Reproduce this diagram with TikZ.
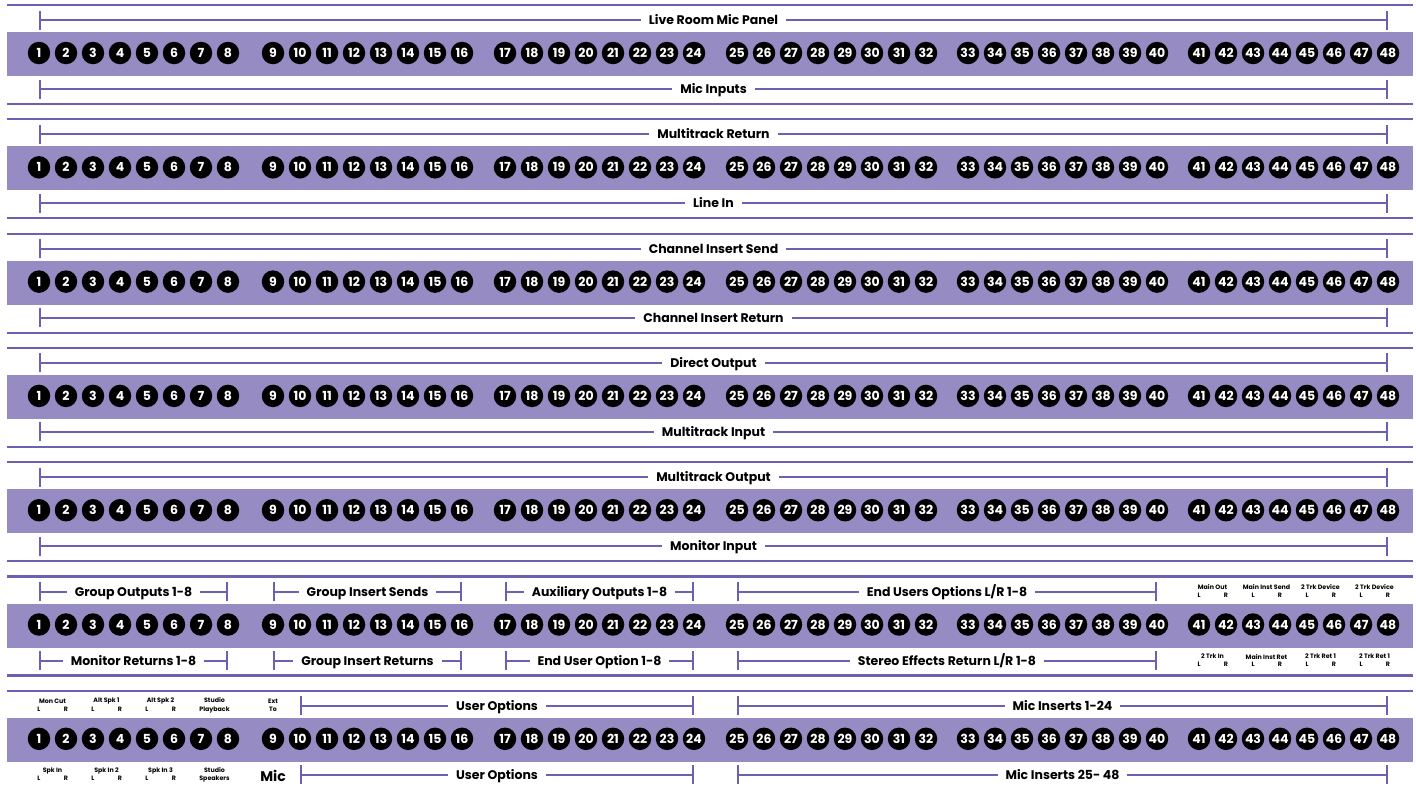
\documentclass[tikz,border=0pt]{standalone}
\usepackage{fontspec}
\setmainfont{Poppins}
\usetikzlibrary{arrows.meta,calc}
\definecolor{PatchBand}{HTML}{978BC4}
\definecolor{PatchLine}{HTML}{6A61B3}
\tikzset{
  rule/.style={draw=PatchLine, line width=2.2pt},
  span/.style={draw=PatchLine, line width=2pt, {Bar[width=19pt]}-{Bar[width=19pt]}},
  jack/.style={circle, fill=black, text=white, minimum size=22.5pt, inner sep=0pt,
               font=\bfseries\fontsize{12.5}{13}\selectfont},
  title/.style={fill=white, inner xsep=8pt, inner ysep=1pt, text height=9pt, text depth=0pt,
                font=\bfseries\fontsize{12.5}{13}\selectfont},
  tiny/.style={align=center, inner sep=0pt, font=\bfseries\fontsize{6.3}{8.5}\selectfont},
  mic/.style={inner sep=0pt, font=\bfseries\fontsize{14}{14}\selectfont},
}

\begin{document}
\begin{tikzpicture}[x=1pt,y=-1pt]
  \useasboundingbox (0,0) rectangle (1416,788);
  \foreach \s in {0,...,6}{
    \pgfmathsetmacro\ty{5+114.3*\s}
    \fill[PatchBand] (7,\ty+27) rectangle (1413,\ty+71);
    \draw[rule] (7,\ty) -- (1413,\ty);
    \ifnum\s<6 \draw[rule] (7,\ty+99) -- (1413,\ty+99); \fi
    \foreach \n in {1,...,48}{
      \pgfmathsetmacro\jx{{39,273,505,737,968,1199}[int((\n-1)/8)]+27*mod(\n-1,8)}
      \node[jack] (j\s-\n) at (\jx,\ty+48) {\n};
    }
  }

  \foreach \s/\up/\down in {0/Live Room Mic Panel/Mic Inputs,
                            1/Multitrack Return/Line In,
                            2/Channel Insert Send/Channel Insert Return,
                            3/Direct Output/Multitrack Input,
                            4/Multitrack Output/Monitor Input}{
    \draw[span] ($(j\s-1)+(0,-33)$) -- ($(j\s-48)+(0,-33)$) node[title, midway] (up\s) {\up};
    \draw[span] ($(j\s-1)+(0,36)$) -- ($(j\s-48)+(0,36)$) node[title, midway] (down\s) {\down};
  }

  \foreach \a/\b/\up/\down [count=\k] in {1/8/Group Outputs 1-8/Monitor Returns 1-8,
                                          9/16/Group Insert Sends/Group Insert Returns,
                                          17/24/Auxiliary Outputs 1-8/End User Option 1-8,
                                          25/40/{End Users Options L/R 1-8}/{Stereo Effects Return L/R 1-8}}{
    \draw[span] ($(j5-\a)+(0,-33)$) -- ($(j5-\b)+(0,-33)$) node[title, midway] (gu\k) {\up};
    \draw[span] ($(j5-\a)+(0,36)$) -- ($(j5-\b)+(0,36)$) node[title, midway] (gd\k) {\down};
  }
  \foreach \a/\b/\up/\down [count=\k] in {41/42/Main Out/2 Trk In,
                                          43/44/Main Inst Send/Main Inst Ret,
                                          45/46/2 Trk Device/2 Trk Ret 1,
                                          47/48/2 Trk Device/2 Trk Ret 1}{
    \node[tiny] (nu\k) at ($(j5-\a)!0.5!(j5-\b)+(0,-37.5)$) {\up};
    \node[tiny] (lu\k) at ($(j5-\a)+(0,-29.5)$) {L};
    \node[tiny] (ru\k) at ($(j5-\b)+(0,-29.5)$) {R};
    \node[tiny] (nd\k) at ($(j5-\a)!0.5!(j5-\b)+(0,32)$) {\down};
    \node[tiny] (ld\k) at ($(j5-\a)+(0,39.5)$) {L};
    \node[tiny] (rd\k) at ($(j5-\b)+(0,39.5)$) {R};
  }

  \foreach \a/\b/\up/\down [count=\k] in {1/2/Mon Cut/Spk In,
                                          3/4/Alt Spk 1/Spk In 2,
                                          5/6/Alt Spk 2/Spk In 3}{
    \node[tiny] (mu\k) at ($(j6-\a)!0.5!(j6-\b)+(0,-37.5)$) {\up};
    \node[tiny] (mlu\k) at ($(j6-\a)+(0,-29.5)$) {L};
    \node[tiny] (mru\k) at ($(j6-\b)+(0,-29.5)$) {R};
    \node[tiny] (md\k) at ($(j6-\a)!0.5!(j6-\b)+(0,32)$) {\down};
    \node[tiny] (mld\k) at ($(j6-\a)+(0,39.5)$) {L};
    \node[tiny] (mrd\k) at ($(j6-\b)+(0,39.5)$) {R};
  }
  \node[tiny] (playback) at ($(j6-7)!0.5!(j6-8)+(0,-33.5)$) {Studio\\Playback};
  \node[tiny] (speakers) at ($(j6-7)!0.5!(j6-8)+(0,36)$) {Studio\\Speakers};
  \node[tiny] (extto) at ($(j6-9)+(0,-33.5)$) {Ext\\To};
  \node[mic] (mic) at ($(j6-9)+(0,37)$) {Mic};
  \draw[span] ($(j6-10)+(0,-33)$) -- ($(j6-24)+(0,-33)$) node[title, midway] (optu) {User Options};
  \draw[span] ($(j6-10)+(0,36)$) -- ($(j6-24)+(0,36)$) node[title, midway] (optd) {User Options};
  \draw[span] ($(j6-25)+(0,-33)$) -- ($(j6-48)+(0,-33)$) node[title, midway] (insu) {Mic Inserts 1-24};
  \draw[span] ($(j6-25)+(0,36)$) -- ($(j6-48)+(0,36)$) node[title, midway] (insd) {Mic Inserts 25- 48};
\end{tikzpicture}
\end{document}
